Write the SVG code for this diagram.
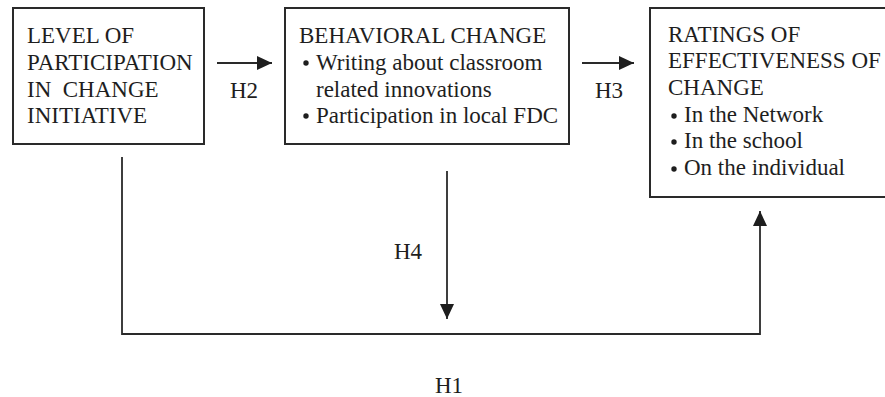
<svg xmlns="http://www.w3.org/2000/svg" width="885" height="397" viewBox="0 0 885 397">
  <style>
    .box { fill: #fff; stroke: #2a2a2a; stroke-width: 2; }
    .t { font-family: "Liberation Serif", "Times New Roman", serif; font-size: 23px; fill: #1e1e1e; white-space: pre; }
    .edge { fill: none; stroke: #2a2a2a; stroke-width: 1.8; }
    .dot { fill: #1e1e1e; }
  </style>
  <defs>
    <marker id="arrow" viewBox="0 0 15 14" refX="15" refY="7" markerWidth="15" markerHeight="14" markerUnits="userSpaceOnUse" orient="auto">
      <path d="M0,0 L15,7 L0,14 Z" fill="#1e1e1e"/>
    </marker>
  </defs>
  <rect width="885" height="397" fill="#fff"/>

  <g id="participation">
    <rect class="box" x="13" y="8" width="191" height="136"/>
    <text class="t" x="27" y="43">LEVEL OF</text>
    <text class="t" x="27" y="70">PARTICIPATION</text>
    <text class="t" x="27" y="97" xml:space="preserve">IN  CHANGE</text>
    <text class="t" x="27" y="123">INITIATIVE</text>
  </g>

  <g id="behavioral">
    <rect class="box" x="285" y="8" width="284" height="136"/>
    <text class="t" x="299" y="43">BEHAVIORAL CHANGE</text>
    <circle class="dot" cx="306" cy="63" r="2.7"/>
    <text class="t" x="316" y="70">Writing about classroom</text>
    <text class="t" x="316" y="97">related innovations</text>
    <circle class="dot" cx="306" cy="116" r="2.7"/>
    <text class="t" x="316" y="123">Participation in local FDC</text>
  </g>

  <g id="ratings">
    <rect class="box" x="650" y="8" width="240" height="189"/>
    <text class="t" x="668" y="42">RATINGS OF</text>
    <text class="t" x="668" y="68">EFFECTIVENESS OF</text>
    <text class="t" x="668" y="95">CHANGE</text>
    <circle class="dot" cx="674" cy="116" r="2.7"/>
    <text class="t" x="684" y="122">In the Network</text>
    <circle class="dot" cx="674" cy="142" r="2.7"/>
    <text class="t" x="684" y="148">In the school</text>
    <circle class="dot" cx="674" cy="169" r="2.7"/>
    <text class="t" x="684" y="175">On the individual</text>
  </g>

  <g id="connectors">
    <line class="edge" x1="217" y1="63" x2="272" y2="63" marker-end="url(#arrow)"/>
    <line class="edge" x1="582" y1="63" x2="634" y2="63" marker-end="url(#arrow)"/>
    <line class="edge" x1="447" y1="171" x2="447" y2="319" marker-end="url(#arrow)"/>
    <polyline class="edge" points="122,157 122,334 760,334 760,211" marker-end="url(#arrow)"/>
    <text class="t" x="230" y="98">H2</text>
    <text class="t" x="595" y="98">H3</text>
    <text class="t" x="394" y="259">H4</text>
    <text class="t" x="435" y="393">H1</text>
  </g>
</svg>
